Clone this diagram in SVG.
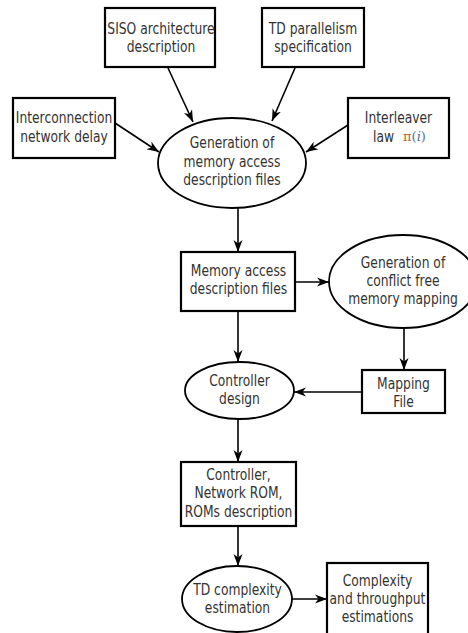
<svg xmlns="http://www.w3.org/2000/svg" width="468" height="633" viewBox="0 0 468 633">
<style>
.box{fill:#fff;stroke:#000;stroke-width:2.2}
.ell{fill:#fff;stroke:#000;stroke-width:1.8}
.lbl{font-family:"DejaVu Sans",sans-serif;font-size:16px;text-anchor:middle;fill:#333}
.edge{stroke:#000;stroke-width:1.6;fill:none;marker-end:url(#arr)}
</style>
<defs>
<marker id="arr" markerUnits="userSpaceOnUse" markerWidth="14" markerHeight="10" refX="12" refY="5" orient="auto">
<path d="M12,5 L0,0.5 L3.5,5 L0,9.5 Z" fill="#000"/>
</marker>
</defs>
<rect width="468" height="633" fill="#fff"/>
<g id="connectors">
<line class="edge" x1="168" y1="68" x2="193" y2="122"/>
<line class="edge" x1="295" y1="68" x2="272" y2="121"/>
<line class="edge" x1="115" y1="123" x2="159" y2="152"/>
<line class="edge" x1="348" y1="125" x2="306" y2="152"/>
<line class="edge" x1="238" y1="208" x2="238" y2="252"/>
<line class="edge" x1="295" y1="282" x2="329" y2="282"/>
<line class="edge" x1="404" y1="328" x2="404" y2="370"/>
<line class="edge" x1="362" y1="392" x2="294" y2="392"/>
<line class="edge" x1="238" y1="311" x2="238" y2="362"/>
<line class="edge" x1="238" y1="419" x2="238" y2="462"/>
<line class="edge" x1="238" y1="526" x2="238" y2="566"/>
<line class="edge" x1="292" y1="599" x2="327" y2="599"/>
</g>
<g id="siso">
<rect class="box" x="105" y="8" width="110" height="59"/>
<text class="lbl" transform="translate(161,0) scale(0.77,1)"><tspan x="0" y="34">SISO architecture</tspan><tspan x="0" y="52">description</tspan></text>
</g>
<g id="td-parallelism">
<rect class="box" x="262" y="8" width="102" height="59"/>
<text class="lbl" transform="translate(313,0) scale(0.77,1)"><tspan x="0" y="34">TD parallelism</tspan><tspan x="0" y="52">specification</tspan></text>
</g>
<g id="interconnection">
<rect class="box" x="13" y="98" width="102" height="60"/>
<text class="lbl" transform="translate(64,0) scale(0.77,1)"><tspan x="0" y="123">Interconnection</tspan><tspan x="0" y="142">network delay</tspan></text>
</g>
<g id="interleaver">
<rect class="box" x="348" y="98" width="101" height="60"/>
<text class="lbl" transform="translate(398.5,0) scale(0.77,1)"><tspan x="0" y="123">Interleaver</tspan></text>
<text class="lbl" style="text-anchor:start" transform="translate(373,0) scale(0.77,1)" x="0" y="142">law</text>
<text x="403" y="141" style="font-family:'DejaVu Serif',serif;font-size:13px"><tspan fill="#b8651b">π</tspan><tspan fill="#4a6fa5">(</tspan><tspan fill="#4a6fa5" font-style="italic">i</tspan><tspan fill="#4a6fa5">)</tspan></text>
</g>
<g id="generation">
<ellipse class="ell" cx="232" cy="163" rx="74" ry="45"/>
<text class="lbl" transform="translate(232,0) scale(0.77,1)"><tspan x="0" y="148">Generation of</tspan><tspan x="0" y="167">memory access</tspan><tspan x="0" y="185">description files</tspan></text>
</g>
<g id="memory-access">
<rect class="box" x="181" y="252" width="114" height="59"/>
<text class="lbl" transform="translate(238.5,0) scale(0.77,1)"><tspan x="0" y="276">Memory access</tspan><tspan x="0" y="294">description files</tspan></text>
</g>
<g id="conflict-free">
<ellipse class="ell" cx="403" cy="281.5" rx="74" ry="46.5"/>
<text class="lbl" transform="translate(403,0) scale(0.77,1)"><tspan x="0" y="268">Generation of</tspan><tspan x="0" y="286">conflict free</tspan><tspan x="0" y="304">memory mapping</tspan></text>
</g>
<g id="mapping-file">
<rect class="box" x="362" y="370" width="83" height="43"/>
<text class="lbl" transform="translate(403.5,0) scale(0.77,1)"><tspan x="0" y="389">Mapping</tspan><tspan x="0" y="407">File</tspan></text>
</g>
<g id="controller-design">
<ellipse class="ell" cx="239.5" cy="390.5" rx="54.5" ry="28.5"/>
<text class="lbl" transform="translate(239.5,0) scale(0.77,1)"><tspan x="0" y="386">Controller</tspan><tspan x="0" y="404">design</tspan></text>
</g>
<g id="controller-roms">
<rect class="box" x="181" y="462" width="115" height="64"/>
<text class="lbl" transform="translate(238.5,0) scale(0.77,1)"><tspan x="0" y="480">Controller,</tspan><tspan x="0" y="498">Network ROM,</tspan><tspan x="0" y="517">ROMs description</tspan></text>
</g>
<g id="td-complexity">
<ellipse class="ell" cx="237" cy="599" rx="55" ry="33"/>
<text class="lbl" transform="translate(237.5,0) scale(0.77,1)"><tspan x="0" y="595">TD complexity</tspan><tspan x="0" y="613">estimation</tspan></text>
</g>
<g id="complexity-throughput">
<rect class="box" x="327" y="563" width="101" height="76"/>
<text class="lbl" transform="translate(377.5,0) scale(0.77,1)"><tspan x="0" y="586">Complexity</tspan><tspan x="0" y="604">and throughput</tspan><tspan x="0" y="622">estimations</tspan></text>
</g>
</svg>
